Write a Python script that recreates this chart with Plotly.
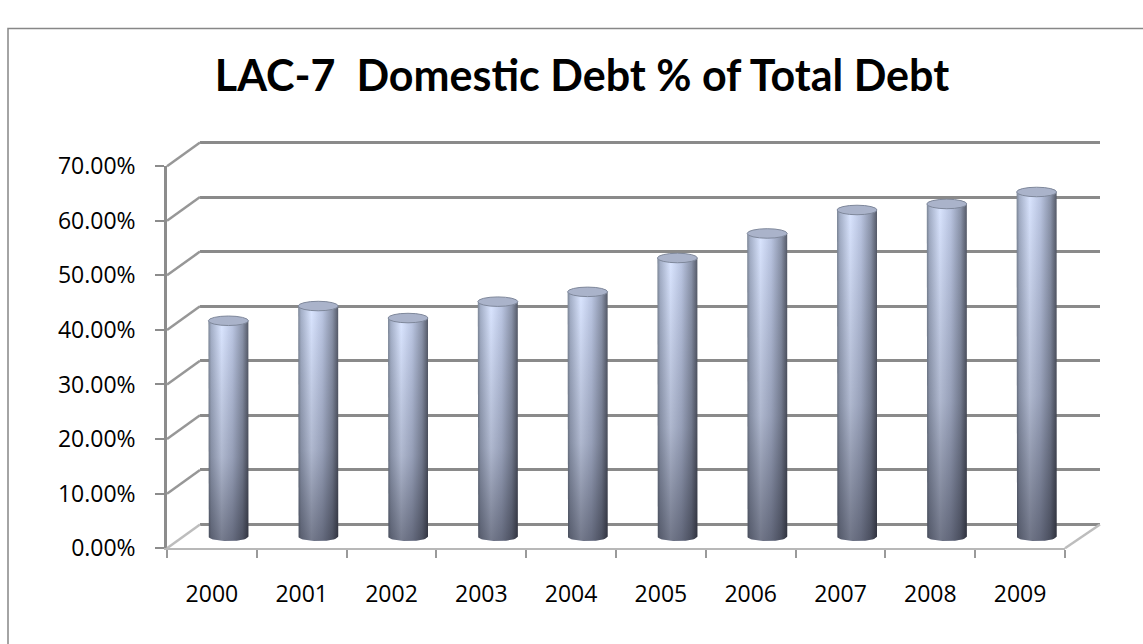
import numpy as np
import plotly.graph_objects as go

# ---------------- data ----------------
years = ["2000", "2001", "2002", "2003", "2004", "2005", "2006", "2007", "2008", "2009"]
domestic_share = [0.395, 0.422, 0.400, 0.430, 0.448, 0.510, 0.555, 0.598, 0.609, 0.631]
y_ticks = [0.0, 0.1, 0.2, 0.3, 0.4, 0.5, 0.6, 0.7]
title_text = "LAC-7\u00a0 Domestic Debt % of Total Debt"

# ---------------- layout geometry (pixels) ----------------
W, H = 1143, 644
FX0, FX1, FYB, FYT = 167, 1065, 559, 157      # front plane
DX, DY = 33, 25                                # depth offset to back wall
Y_MAX = 0.7
Y_PAD = 0.03                                   # room below zero for cylinder bottoms
G_PAD = 0.006                                  # keeps edge gridlines inside range
N = len(years)

def fx(p):
    return p / W

def fy(p):
    return 1 - p / H

px_per_cat = (FX1 - FX0) / N
px_per_unit = (FYB - FYT) / Y_MAX
hw = 20 / px_per_cat          # cylinder half-width in category units
ry = 5 / px_per_unit          # ellipse half-height in data units

TICK_FONT_FAMILY = "'Open Sans', sans-serif"
TITLE_FONT_FAMILY = "Lato, 'Open Sans', sans-serif"

fig = go.Figure()

# invisible traces establishing the front and back-wall coordinate systems
fig.add_trace(go.Scatter(x=years, y=domestic_share, mode="markers",
                         marker=dict(opacity=0, size=1), hoverinfo="skip",
                         showlegend=False, xaxis="x", yaxis="y"))
fig.add_trace(go.Scatter(x=list(range(N)), y=domestic_share, mode="markers",
                         marker=dict(opacity=0, size=1), hoverinfo="skip",
                         showlegend=False, xaxis="x2", yaxis="y2"))

# cylinders at mid depth
h_scale = [[0.0, "#7b8595"], [0.07, "#a3aec6"], [0.33, "#d8e3fd"],
           [0.6, "#b9c4e0"], [0.85, "#8a93a9"], [1.0, "#555a68"]]
v_scale = [[0.0, "rgba(10,10,20,0.55)"], [0.45, "rgba(10,10,20,0.2)"],
           [1.0, "rgba(10,10,20,0.0)"]]
t = np.linspace(np.pi, 2 * np.pi, 31)
for i, v in enumerate(domestic_share):
    xs = [i - hw, i - hw] + list(i + hw * np.cos(t)) + [i + hw, i + hw]
    ys = [v, 0] + list(ry * np.sin(t)) + [0, v]
    fig.add_trace(go.Scatter(
        x=xs, y=ys, fill="toself", mode="lines", line=dict(width=0),
        fillgradient=dict(type="horizontal", colorscale=h_scale,
                          start=i - hw, stop=i + hw),
        hoverinfo="skip", showlegend=False, xaxis="x3", yaxis="y3"))
    fig.add_trace(go.Scatter(
        x=xs, y=ys, fill="toself", mode="lines", line=dict(width=0),
        fillgradient=dict(type="vertical", colorscale=v_scale,
                          start=-ry, stop=v),
        hoverinfo="skip", showlegend=False, xaxis="x3", yaxis="y3"))
    fig.add_shape(type="circle", xref="x3", yref="y3",
                  x0=i - hw, x1=i + hw, y0=v - ry, y1=v + ry,
                  fillcolor="#aab3ca", line=dict(color="#7f889b", width=1))

shapes = []
# side-wall diagonals linking front ticks to back gridlines
for tv in y_ticks:
    yf = FYB - tv * px_per_unit
    yb = yf - DY
    shapes.append(dict(type="line", xref="paper", yref="paper",
                       x0=fx(FX0), y0=fy(yf), x1=fx(FX0 + DX), y1=fy(yb),
                       line=dict(color="#bdbdbd" if tv == 0 else "#979797", width=2.5)))
# right floor diagonal
shapes.append(dict(type="line", xref="paper", yref="paper",
                   x0=fx(FX1), y0=fy(FYB), x1=fx(FX1 + DX + 2), y1=fy(FYB - DY),
                   line=dict(color="#bdbdbd", width=2.5)))
# outer chart border (top & left visible)
shapes.append(dict(type="rect", xref="paper", yref="paper",
                   x0=fx(8), x1=1.05, y0=-0.05, y1=fy(12),
                   line=dict(color="#878787", width=1.5)))
for s in shapes:
    fig.add_shape(**s)

tick_font = dict(family=TICK_FONT_FAMILY, size=23, color="#000000")

mid_bottom_px = FYB - DY / 2 + Y_PAD * px_per_unit
back_bottom_px = FYB - DY + G_PAD * px_per_unit
back_top_px = FYT - DY - G_PAD * px_per_unit

fig.update_layout(
    width=W, height=H,
    margin=dict(l=0, r=0, t=0, b=0),
    paper_bgcolor="white", plot_bgcolor="rgba(0,0,0,0)",
    showlegend=False,
    title=dict(text=title_text, x=582 / W, xanchor="center",
               y=1 - 76 / H, yanchor="middle", yref="container",
               font=dict(family=TITLE_FONT_FAMILY, size=43, color="#000000",
                         weight="bold")),
    # front plane: labels, ticks, axis lines
    xaxis=dict(domain=[fx(FX0), fx(FX1)], anchor="y", type="category",
               categoryarray=years, range=[-0.5, N - 0.5], tickson="boundaries",
               ticks="outside", ticklen=8, tickwidth=1.5, tickcolor="#9a9a9a",
               showline=True, linecolor="#b8b8b8", linewidth=2,
               showgrid=False, zeroline=False, tickfont=tick_font,
               ticklabelstandoff=24, fixedrange=True),
    yaxis=dict(domain=[fy(FYB), fy(FYT)], anchor="x", range=[0, Y_MAX],
               tickvals=y_ticks, tickformat=".2%", ticks="outside", ticklen=9,
               tickwidth=1.5, tickcolor="#8c8c8c", showline=True,
               linecolor="#8c8c8c", linewidth=2.5, showgrid=False,
               zeroline=False, tickfont=tick_font, ticklabelstandoff=15,
               fixedrange=True),
    # back wall: gridlines
    xaxis2=dict(domain=[fx(FX0 + DX), fx(FX1 + DX + 2)], anchor="y2",
                range=[-0.5, N - 0.5], showgrid=False, showticklabels=False,
                ticks="", zeroline=False, showline=False, fixedrange=True),
    yaxis2=dict(domain=[fy(back_bottom_px), fy(back_top_px)], anchor="x2",
                range=[-G_PAD, Y_MAX + G_PAD], tickvals=y_ticks, showgrid=True,
                gridcolor="#8a8a8a", gridwidth=3, showticklabels=False,
                ticks="", zeroline=False, showline=False, fixedrange=True),
    # mid depth: cylinders
    xaxis3=dict(domain=[fx(FX0 + DX / 2), fx(FX1 + DX / 2)], anchor="y3",
                range=[-0.5, N - 0.5], visible=False, fixedrange=True),
    yaxis3=dict(domain=[fy(mid_bottom_px), fy(FYT - DY / 2)], anchor="x3",
                range=[-Y_PAD, Y_MAX], visible=False, fixedrange=True),
)

fig.write_html("out.html")
